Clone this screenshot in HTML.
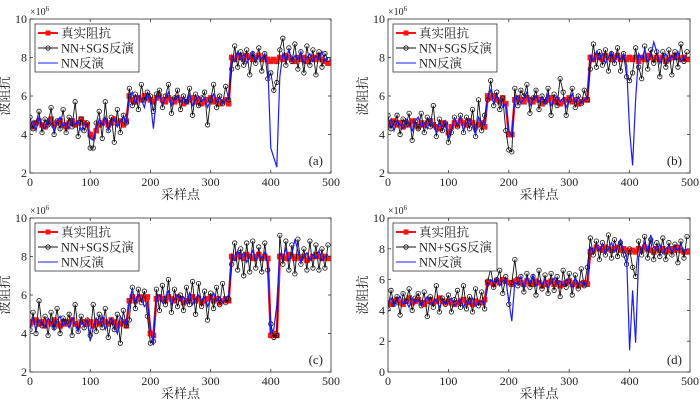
<!DOCTYPE html>
<html><head><meta charset="utf-8"><style>
body{margin:0;background:#fff;}
svg{display:block;font-family:"Liberation Serif","Noto Serif CJK SC",serif;}
</style></head><body>
<svg id="chart" width="700" height="403" viewBox="0 0 700 403"></svg>
<script>
const sampleStep = 5;
const truthA = [4.5,4.4,4.6,4.7,4.5,4.4,4.6,4.8,4.5,4.6,4.7,4.5,4.4,4.6,4.7,4.5,4.6,4.8,4.6,4.5,
4.0,3.9,4.2,4.5,4.6,4.7,4.5,4.6,4.8,4.6,4.7,4.5,4.7,
6.0,5.8,5.7,5.9,5.8,6.0,5.9,5.8,5.7,5.9,6.0,5.8,5.7,5.9,5.8,5.7,5.9,5.8,5.6,5.7,5.8,5.9,5.7,5.8,5.6,5.7,5.8,5.9,5.7,5.8,5.6,5.7,5.8,5.6,
8.0,7.9,8.1,8.0,7.9,8.1,8.0,7.9,8.0,8.1,7.9,8.0,7.9,
7.8,7.9,7.8,8.0,7.9,8.1,8.0,7.9,7.8,8.0,7.9,8.0,7.8,7.9,8.0,7.9,8.1,7.9,7.8,7.7];
const nnA = [4.4,4.7,4.2,4.9,4.5,4.3,4.8,4.6,4.2,4.7,4.9,4.4,4.6,4.3,4.8,4.5,4.7,4.2,4.6,4.4,
3.8,3.7,4.3,4.8,4.5,4.9,4.2,4.6,4.8,4.4,4.7,4.9,4.6,
5.9,6.2,5.6,6.0,5.8,5.4,6.1,5.7,4.3,5.9,6.0,5.6,5.9,6.2,5.5,5.8,6.0,5.7,5.9,5.6,6.1,5.5,5.8,6.0,5.7,5.9,5.4,5.8,6.1,5.7,5.9,5.6,5.8,6.0,
8.1,7.8,8.3,7.9,8.2,7.7,8.0,8.3,7.8,8.1,7.9,8.2,7.6,
3.3,2.8,2.3,7.0,8.2,7.9,8.4,7.8,8.1,7.9,8.3,7.7,8.0,8.2,7.8,8.1,7.9,8.3,7.8,8.0];
const sgsA = [4.9,4.3,4.6,5.2,4.1,4.8,4.5,5.4,4.0,4.7,4.3,5.3,4.1,4.9,4.4,5.7,3.9,4.8,4.2,4.6,
3.3,3.3,4.6,5.2,3.8,5.7,4.2,4.9,3.6,5.3,4.1,5.0,4.6,
6.4,5.5,6.1,5.3,6.6,5.8,6.2,6.0,5.2,6.1,6.3,5.4,6.0,6.6,5.1,5.9,6.3,5.3,6.0,5.7,6.4,5.0,6.1,5.5,5.9,6.2,4.5,5.8,6.6,5.4,6.0,5.6,6.5,5.8,
7.4,8.6,7.5,8.3,7.6,8.4,7.1,8.2,7.7,8.5,7.3,8.2,6.9,
7.2,6.3,6.7,8.4,9.0,7.6,8.5,7.8,8.7,7.4,8.3,7.2,8.6,7.6,8.4,7.1,8.3,7.5,8.2,7.9];
const truthB = [4.6,4.5,4.7,4.5,4.6,4.4,4.6,4.5,4.7,4.5,4.4,4.6,4.5,4.6,4.7,4.5,4.4,4.3,4.6,4.5,
4.1,4.4,4.6,4.5,4.7,4.6,4.5,4.7,4.6,4.4,4.5,4.6,4.4,
6.0,5.9,6.0,5.8,5.7,5.9,5.6,4.0,4.0,5.8,5.9,5.8,5.7,5.9,5.8,5.7,5.9,5.8,5.6,5.7,5.8,5.9,5.7,5.8,5.6,5.7,5.8,5.9,5.7,5.8,5.6,5.7,5.8,5.8,
8.0,7.9,8.1,8.0,7.9,8.1,8.0,7.9,8.0,8.1,7.9,8.0,7.9,
8.0,7.9,8.0,7.8,8.0,7.9,8.1,8.0,7.9,8.0,7.9,8.0,7.8,7.9,8.0,8.1,8.0,7.9,8.0,7.9];
const nnB = [4.4,4.8,4.2,4.7,4.5,4.3,4.8,4.6,4.2,4.7,4.9,4.4,4.6,4.3,4.8,4.5,4.1,4.6,4.4,4.7,
3.8,4.3,4.8,4.5,4.9,4.2,4.6,4.8,4.4,4.0,4.9,4.6,4.5,
5.9,6.3,5.6,6.0,5.8,5.4,5.6,4.2,3.9,5.9,6.0,5.6,5.9,6.2,5.5,5.8,6.0,5.7,5.9,5.6,6.1,5.5,5.8,6.0,5.7,5.9,5.4,5.8,6.1,5.7,5.9,5.6,5.8,6.0,
8.1,7.8,8.3,7.9,8.2,7.7,8.0,8.3,7.8,8.1,7.9,8.2,7.6,
4.2,2.4,5.8,8.2,7.9,8.4,7.8,8.1,8.8,8.3,7.7,8.0,8.2,7.8,8.1,7.9,8.3,7.8,8.0,8.1];
const sgsB = [5.0,4.3,4.6,5.0,4.0,4.8,4.5,5.1,3.7,4.7,4.3,5.1,4.1,4.9,4.4,5.5,3.9,4.8,4.2,4.6,
3.6,4.1,4.9,4.4,5.0,4.1,4.9,4.3,5.3,3.9,5.8,4.2,5.0,
5.8,6.8,5.5,6.2,5.3,5.9,4.2,3.2,3.1,6.4,5.5,6.3,6.0,6.6,5.1,5.9,6.3,5.3,6.0,5.7,6.4,5.0,6.1,5.5,6.9,6.2,5.0,5.8,6.4,5.4,6.0,5.6,6.3,5.8,
7.4,8.7,7.5,8.3,7.6,8.4,7.3,8.2,7.7,8.5,7.3,8.2,7.0,
6.8,7.2,8.5,7.5,6.9,8.6,7.4,8.4,7.7,8.3,7.0,8.3,7.5,8.4,7.1,8.3,7.5,8.7,7.8,8.3];
const truthC = [4.5,4.6,4.7,4.5,4.6,4.4,4.6,4.5,4.7,4.5,4.4,4.6,4.5,4.6,4.7,4.5,4.4,4.6,4.6,4.5,
4.6,4.4,4.6,4.5,4.7,4.6,4.5,4.7,4.6,4.4,4.5,4.6,4.4,
5.7,5.9,5.7,5.8,5.9,5.8,5.9,4.0,3.9,5.8,5.9,5.8,5.7,5.9,5.8,5.7,5.9,5.8,5.6,5.7,5.8,5.9,5.7,5.8,5.6,5.7,5.8,5.9,5.7,5.8,5.6,5.7,5.8,5.7,
8.0,7.9,8.1,8.0,7.9,8.1,8.0,7.9,8.0,8.1,7.9,8.0,7.9,
3.9,4.0,3.9,8.0,8.0,7.9,8.1,8.0,7.9,8.0,7.9,8.0,7.8,7.9,8.0,8.1,8.0,7.9,8.0,7.9];
const nnC = [4.4,4.8,4.2,4.7,4.5,4.3,4.8,4.6,4.2,4.7,4.9,4.4,4.6,4.3,4.8,4.5,4.1,4.6,4.4,4.7,
3.6,4.3,4.8,4.5,4.9,4.2,4.6,4.8,4.4,4.0,4.9,4.6,4.5,
5.7,6.3,5.6,6.0,5.8,5.4,5.6,4.4,3.4,5.9,6.0,5.6,5.9,6.2,5.5,5.8,6.0,5.7,5.9,5.6,6.1,5.5,5.8,6.0,5.7,5.9,5.4,5.8,6.1,5.7,5.9,5.6,5.8,6.0,
8.1,7.8,8.3,7.9,8.2,7.7,8.0,8.3,7.8,8.1,7.9,8.2,7.6,
4.0,4.2,5.5,8.2,7.9,8.4,7.8,8.1,8.9,8.3,7.7,8.0,8.2,7.8,8.1,7.9,8.3,7.8,8.0,8.1];
const sgsC = [4.2,5.1,4.0,5.7,4.4,4.9,3.9,5.1,4.3,5.3,4.0,4.8,4.6,5.0,3.9,5.5,4.1,4.9,4.3,4.7,
3.9,5.5,4.1,5.0,4.3,5.3,3.8,4.6,4.2,5.0,3.5,5.2,4.4,
4.7,6.4,5.3,6.3,5.6,6.2,4.9,3.5,3.6,6.3,5.2,6.5,5.5,6.8,5.1,6.3,5.4,6.0,5.2,6.4,5.5,6.7,5.0,6.6,5.4,6.2,4.7,6.1,5.3,6.4,5.5,6.6,5.6,5.8,
7.6,8.7,7.3,8.4,7.0,8.7,7.2,8.8,7.4,8.5,7.2,8.7,7.3,
4.5,3.8,3.9,9.1,7.6,8.8,7.3,8.6,7.1,8.9,7.6,8.4,7.3,8.8,7.4,8.6,7.3,8.4,7.4,8.6];
const truthD = [4.5,4.4,4.6,4.7,4.5,4.4,4.6,4.8,4.5,4.6,4.7,4.5,4.4,4.6,4.7,4.5,4.6,4.8,4.6,4.5,
4.6,4.5,4.4,4.5,4.6,4.7,4.5,4.6,4.4,4.6,4.5,4.5,4.7,
5.8,5.8,5.7,5.9,5.8,6.0,5.9,5.8,5.7,5.9,6.0,5.8,5.7,5.9,5.8,5.7,5.9,5.8,5.6,5.7,5.8,5.9,5.7,5.8,5.6,5.7,5.8,5.9,5.7,5.8,5.6,5.7,5.8,5.7,
7.8,7.9,8.1,8.0,7.9,8.1,8.0,7.9,8.0,8.1,7.9,8.0,7.9,
7.8,7.9,7.8,8.0,7.9,8.1,8.0,7.9,7.8,8.0,7.9,8.0,7.8,7.9,8.0,7.9,8.1,7.9,7.8,7.8];
const nnD = [4.5,4.8,4.3,4.7,4.9,4.4,4.6,4.2,4.8,4.5,4.7,4.3,4.6,4.9,4.4,4.5,4.7,4.2,4.6,4.4,
4.6,4.8,4.3,4.5,4.7,4.2,4.6,4.4,4.8,4.3,4.5,4.6,4.4,
5.5,6.0,5.8,6.1,5.6,5.9,6.0,4.6,3.3,5.8,5.7,6.2,5.5,6.1,5.8,6.3,5.6,5.9,5.7,6.0,5.5,5.8,6.1,5.7,5.9,5.6,6.0,5.8,5.5,6.1,5.7,5.9,5.6,5.8,
8.1,7.8,8.2,7.9,8.3,7.7,8.0,8.4,7.8,8.1,8.6,7.9,7.6,
1.4,5.3,1.9,7.5,8.0,8.4,7.8,8.9,8.1,7.9,8.3,7.7,8.0,8.2,7.8,8.1,7.9,8.3,7.8,8.0];
const sgsD = [4.1,5.3,4.4,4.9,3.7,5.1,4.6,5.4,4.0,4.8,5.1,4.3,5.2,3.6,4.9,4.2,5.6,3.9,4.8,4.4,
5.0,3.9,4.7,5.3,4.2,5.6,4.1,4.9,3.9,5.4,4.3,5.2,4.1,
5.9,6.7,5.5,6.0,6.6,5.1,6.2,4.4,5.8,7.3,5.6,6.2,5.2,6.4,5.5,6.2,5.0,6.6,5.4,6.3,5.1,6.4,5.3,6.2,4.9,6.6,5.5,6.4,5.0,6.3,5.4,6.7,5.6,6.8,
8.7,7.6,8.5,7.3,8.4,7.6,8.9,7.4,8.6,7.5,8.4,7.6,7.0,
8.0,6.8,6.2,8.5,7.6,8.8,7.4,8.6,7.3,8.4,7.5,8.7,7.3,8.4,7.6,8.3,7.1,8.5,7.4,8.8];
const xTicks = [0,100,200,300,400,500];
const yTicks26 = [2,4,6,8,10];
const yTicks06 = [0,2,4,6,8,10];
const legendLabels = ["真实阻抗","NN+SGS反演","NN反演"];

const NS = "http://www.w3.org/2000/svg";
const svg = document.getElementById("chart");
function mk(tag, attrs, parent){
  const e = document.createElementNS(NS, tag);
  for (const k in attrs) e.setAttribute(k, attrs[k]);
  (parent||svg).appendChild(e);
  return e;
}
const panels = [
  {id:"a", L:30, R:331, T:19, B:173, ymin:2, ymax:10, yt:yTicks26, truth:truthA, nn:nnA, sgs:sgsA},
  {id:"b", L:388, R:690, T:19, B:173, ymin:2, ymax:10, yt:yTicks26, truth:truthB, nn:nnB, sgs:sgsB},
  {id:"c", L:30, R:331, T:218, B:372, ymin:2, ymax:10, yt:yTicks26, truth:truthC, nn:nnC, sgs:sgsC},
  {id:"d", L:388, R:690, T:218, B:372, ymin:0, ymax:10, yt:yTicks06, truth:truthD, nn:nnD, sgs:sgsD}
];
panels.forEach(p => {
  const g = mk("g", {});
  
  
  const xs = v => p.L + (v/500)*(p.R-p.L);
  const ys = v => p.B - (v-p.ymin)/(p.ymax-p.ymin)*(p.B-p.T);
  const clipId = "clip" + p.id;
  const cp = mk("clipPath", {id: clipId}, g);
  mk("rect", {x:p.L, y:p.T, width:p.R-p.L, height:p.B-p.T}, cp);
  const plot = mk("g", {"clip-path":"url(#"+clipId+")"}, g);
  const tp = p.truth.map((v,i)=>xs(i*sampleStep).toFixed(1)+","+ys(v).toFixed(1)).join(" ");
  const tl = mk("polyline", {points:tp, fill:"none", stroke:"#ff1010", "stroke-width":2.5}, plot);
  
  
  p.truth.forEach((v,i)=>{
    const r = mk("rect", {x:xs(i*sampleStep)-2.8, y:ys(v)-2.8, width:5.6, height:5.6, fill:"#ff1a1a"}, plot);
    
    
  });
  const sp = p.sgs.map((v,i)=>xs(i*sampleStep).toFixed(1)+","+ys(v).toFixed(1)).join(" ");
  const sl = mk("polyline", {points:sp, fill:"none", stroke:"#111", "stroke-width":0.9}, plot);
  
  
  p.sgs.forEach((v,i)=>{
    const c = mk("circle", {cx:xs(i*sampleStep), cy:ys(v), r:2.2, fill:"none", stroke:"#111", "stroke-width":0.8}, plot);
    
    
  });
  const np = p.nn.map((v,i)=>xs(i*sampleStep).toFixed(1)+","+ys(v).toFixed(1)).join(" ");
  const nl = mk("polyline", {points:np, fill:"none", stroke:"#1a1aff", "stroke-width":1.2}, plot);
  
  
  const fr = mk("rect", {x:p.L, y:p.T, width:p.R-p.L, height:p.B-p.T, fill:"none", stroke:"#333", "stroke-width":0.8}, g);
  
  
  xTicks.forEach(t=>{
    const x = xs(t);
    mk("line", {x1:x, x2:x, y1:p.B, y2:p.B-3, stroke:"#333", "stroke-width":0.8}, g);
    mk("line", {x1:x, x2:x, y1:p.T, y2:p.T+3, stroke:"#333", "stroke-width":0.8}, g);
    const tx = mk("text", {x:x, y:p.B+13, "text-anchor":"middle", "font-size":12, fill:"#222"}, g);
    tx.textContent = t;
    
    
  });
  p.yt.forEach(t=>{
    const y = ys(t);
    mk("line", {x1:p.L, x2:p.L+3, y1:y, y2:y, stroke:"#333", "stroke-width":0.8}, g);
    mk("line", {x1:p.R, x2:p.R-3, y1:y, y2:y, stroke:"#333", "stroke-width":0.8}, g);
    const ty = mk("text", {x:p.L-3, y:y+4, "text-anchor":"end", "font-size":12, fill:"#222"}, g);
    ty.textContent = t;
    
    
  });
  const ex = mk("text", {x:p.L, y:p.T-4, "font-size":10, fill:"#222"}, g);
  ex.innerHTML = "×10<tspan dy='-4' font-size='7'>6</tspan>";
  
  
  const xl = mk("text", {x:(p.L+p.R)/2, y:p.B+26, "text-anchor":"middle", "font-size":13, fill:"#222"}, g);
  xl.textContent = "采样点";
  
  
  const cy = (p.T+p.B)/2, cx = p.L-21;
  const yl = mk("text", {x:cx, y:cy, "text-anchor":"middle", "font-size":13, fill:"#222", transform:"rotate(-90 "+cx+" "+cy+")"}, g);
  yl.textContent = "波阻抗";
  
  
  const pl = mk("text", {x:p.R-8, y:p.B-8, "text-anchor":"end", "font-size":13, fill:"#222"}, g);
  pl.textContent = "(" + p.id + ")";
  
  
  const lg = mk("g", {}, g);
  
  
  const lx = p.L+5, ly = p.T+5;
  mk("rect", {x:lx, y:ly, width:104, height:48, fill:"#fff", stroke:"#333", "stroke-width":0.8}, lg);
  legendLabels.forEach((lab,i)=>{
    const y = ly+9+i*15;
    const e = mk("g", {}, lg);
    
    
    const col = i===0?"#ff1010":(i===1?"#111":"#1a1aff");
    mk("line", {x1:lx+3, x2:lx+23, y1:y, y2:y, stroke:col, "stroke-width":i===0?2:1}, e);
    if(i===0) mk("rect", {x:lx+10.5, y:y-2.5, width:5, height:5, fill:col}, e);
    if(i===1) mk("circle", {cx:lx+13, cy:y, r:2.2, fill:"none", stroke:col, "stroke-width":0.8}, e);
    const t = mk("text", {x:lx+26, y:y+4.5, "font-size":12.5, fill:"#222"}, e);
    t.textContent = lab;
  });
});
</script>
</body></html>
